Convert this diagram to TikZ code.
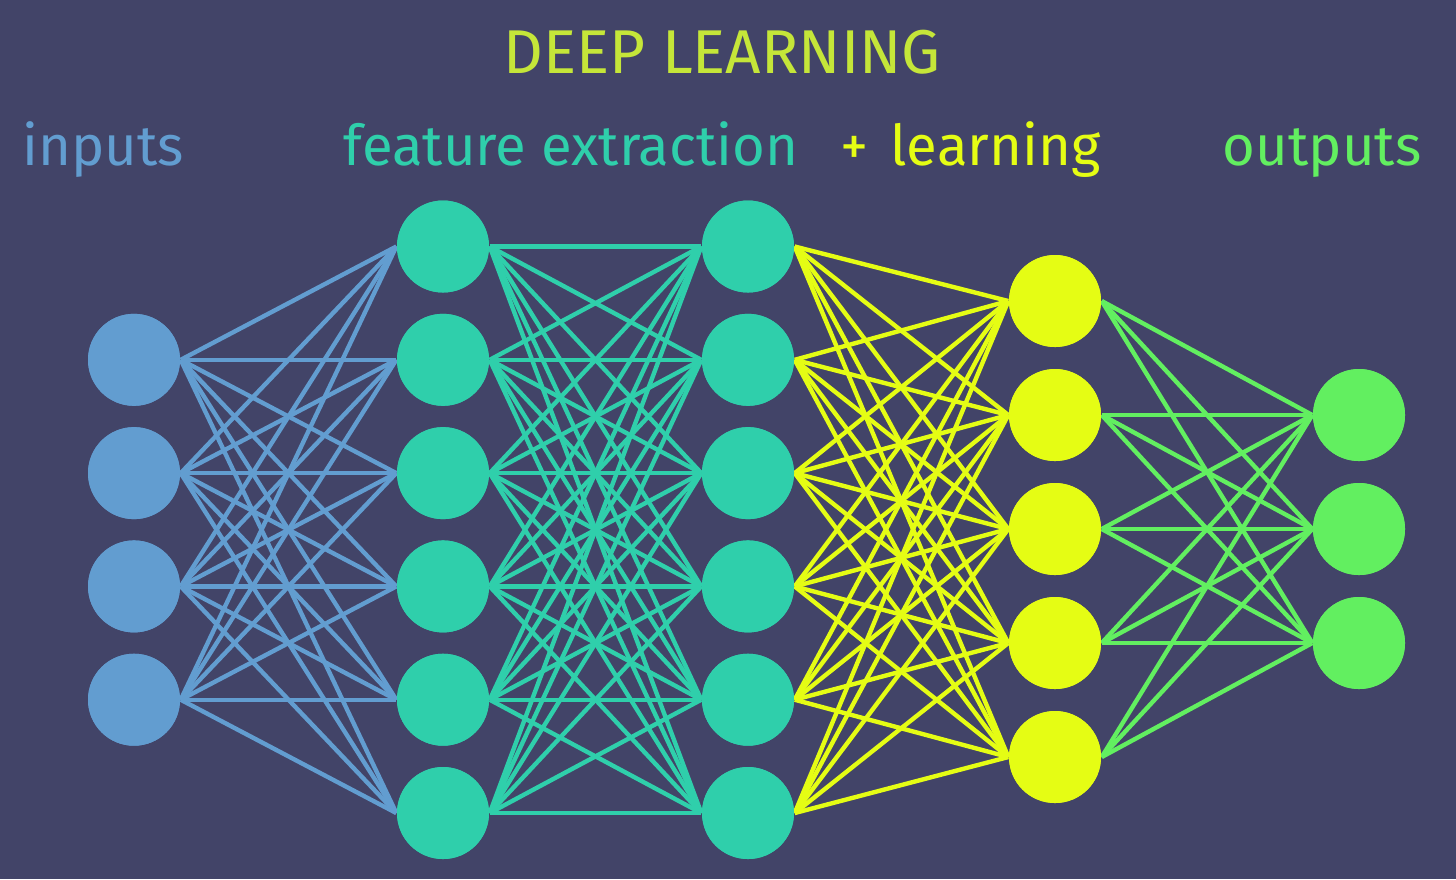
\documentclass[tikz,border=0pt]{standalone}
\usepackage{fontspec}
\setmainfont{Fira Sans}
\definecolor{bg}{HTML}{424468}
\definecolor{cblue}{HTML}{629DD0}
\definecolor{cteal}{HTML}{2FCFAB}
\definecolor{cyel}{HTML}{E5FD14}
\definecolor{cgreen}{HTML}{62EF60}
\definecolor{ctitle}{HTML}{C5E639}
\begin{document}
\begin{tikzpicture}[x=1cm,y=1cm,
  neuron/.style={circle,minimum size=0.92cm,inner sep=0pt,draw=none},
  link/.style={line width=1.25pt},
  lbl/.style={font=\fontsize{16}{19}\selectfont,inner sep=0pt,anchor=base west},
  ttl/.style={font=\fontsize{17.6}{20}\selectfont,inner sep=0pt,anchor=base west}]
\fill[bg] (0,0) rectangle (14.56,-8.79);
\useasboundingbox (0,0) rectangle (14.56,-8.79);
% nodes
\foreach \k in {1,...,4} \node[neuron,fill=cblue] (i\k) at (1.34,{-(2.465+1.133*\k)}) {};
\foreach \k in {0,...,5} {
  \node[neuron,fill=cteal] (a\k) at (4.43,{-(2.465+1.133*\k)}) {};
  \node[neuron,fill=cteal] (b\k) at (7.48,{-(2.465+1.133*\k)}) {};
}
\foreach \k in {0,...,4} \node[neuron,fill=cyel] (c\k) at (10.55,{-(5.29+1.14*(\k-2))}) {};
\foreach \k in {1,...,3} \node[neuron,fill=cgreen] (o\k) at (13.59,{-(5.29+1.14*(\k-2))}) {};
% links
\foreach \s in {1,...,4} \foreach \t in {0,...,5} \draw[link,cblue] (i\s.east) -- (a\t.west);
\foreach \s in {0,...,5} \foreach \t in {0,...,5} \draw[link,cteal] (a\s.east) -- (b\t.west);
\foreach \s in {0,...,5} \foreach \t in {0,...,4} \draw[link,cyel] (b\s.east) -- (c\t.west);
\foreach \s in {0,...,4} \foreach \t in {1,...,3} \draw[link,cgreen] (c\s.east) -- (o\t.west);
% redraw nodes on top
\foreach \k in {1,...,4} \fill[cblue] (i\k) circle (0.46);
\foreach \k in {0,...,5} {\fill[cteal] (a\k) circle (0.46); \fill[cteal] (b\k) circle (0.46);}
\foreach \k in {0,...,4} \fill[cyel] (c\k) circle (0.46);
\foreach \k in {1,...,3} \fill[cgreen] (o\k) circle (0.46);
% labels
\node[ttl,text=ctitle] (title) at (5.03,-0.73) {DEEP LEARNING};
\node[lbl,text=cblue] (tin) at (0.22,-1.65) {inputs};
\node[lbl,text=cteal] (tfe) at (3.43,-1.65) {feature extraction};
\node[lbl,text=cyel] (tplus) at (8.40,-1.65) {+};
\node[lbl,text=cyel] (tlearn) at (8.90,-1.65) {learning};
\node[lbl,text=cgreen] (tout) at (12.22,-1.65) {outputs};
\end{tikzpicture}
\end{document}
